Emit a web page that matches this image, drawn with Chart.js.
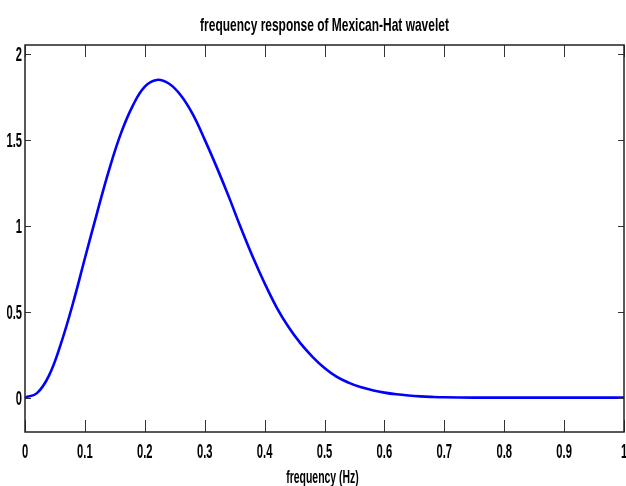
<!DOCTYPE html>
<html>
<head>
<meta charset="utf-8">
<script src="https://cdn.jsdelivr.net/npm/chart.js@4"></script>
<style>
  html, body { margin: 0; padding: 0; background: #fff; }
  #out { display: block; }
</style>
</head>
<body>
<canvas id="out" width="626" height="486"></canvas>
<script>
const freq = [0, 0.02, 0.04, 0.06, 0.08, 0.10, 0.12, 0.14, 0.16, 0.18, 0.20, 0.22,
  0.24, 0.26, 0.28, 0.30, 0.32, 0.34, 0.36, 0.38, 0.40, 0.42, 0.44, 0.46, 0.48,
  0.50, 0.52, 0.54, 0.56, 0.58, 0.60, 0.62, 0.64, 0.66, 0.68, 0.70, 0.75, 0.80,
  0.85, 0.90, 0.95, 1.00];
const response = [0, 0.026, 0.128, 0.314, 0.547, 0.810, 1.070, 1.320, 1.535, 1.698,
  1.808, 1.847, 1.826, 1.758, 1.648, 1.500, 1.340, 1.170, 0.990, 0.820, 0.665,
  0.525, 0.410, 0.315, 0.237, 0.172, 0.122, 0.087, 0.061, 0.043, 0.029, 0.019,
  0.012, 0.007, 0.004, 0.002, 0, 0, 0, 0, 0, 0];
const xTicks = [0, 0.1, 0.2, 0.3, 0.4, 0.5, 0.6, 0.7, 0.8, 0.9, 1];
const yTicks = [0, 0.5, 1, 1.5, 2];
const titleText = "frequency response of Mexican-Hat wavelet";
const xLabel = "frequency (Hz)";

const fontFamily = "'Liberation Sans', Arial, sans-serif";

// condensed text: squeeze horizontally around the anchor point
function squeezedText(ctx, text, x, y, sx, size, align) {
  ctx.save();
  ctx.translate(x, y);
  ctx.scale(sx, 1);
  ctx.font = "bold " + size + "px " + fontFamily;
  ctx.textAlign = align;
  ctx.textBaseline = "alphabetic";
  ctx.fillStyle = "#000";
  ctx.fillText(text, 0, 0);
  ctx.restore();
}

// box around the axes, inward ticks on all four sides, tick labels and titles
const boxPlugin = {
  id: "box",
  afterDraw(chart) {
    const { ctx, chartArea: a, scales } = chart;
    ctx.save();
    ctx.strokeStyle = "#333";
    ctx.lineWidth = 1;
    ctx.beginPath();
    xTicks.forEach(v => {
      const px = Math.round(scales.x.getPixelForValue(v)) + 0.5;
      ctx.moveTo(px, a.bottom); ctx.lineTo(px, a.bottom - 12);
      ctx.moveTo(px, a.top); ctx.lineTo(px, a.top + 12);
    });
    yTicks.forEach(v => {
      const py = Math.round(scales.y.getPixelForValue(v)) + 0.5;
      ctx.moveTo(a.left, py); ctx.lineTo(a.left + 6, py);
      ctx.moveTo(a.right, py); ctx.lineTo(a.right - 6, py);
    });
    ctx.stroke();
    ctx.strokeStyle = "#222";
    ctx.lineWidth = 1.5;
    ctx.strokeRect(a.left, a.top, a.right - a.left, a.bottom - a.top);
    ctx.restore();

    xTicks.forEach(v => {
      squeezedText(ctx, String(v), scales.x.getPixelForValue(v), a.bottom + 26, 0.56, 20, "center");
    });
    yTicks.forEach(v => {
      squeezedText(ctx, String(v), a.left - 3, scales.y.getPixelForValue(v) + 7, 0.56, 20, "right");
    });
    const cx = (a.left + a.right) / 2;
    squeezedText(ctx, titleText, cx, 31, 0.63, 19, "center");
    squeezedText(ctx, xLabel, cx - 2, 483, 0.55, 19, "center");
  }
};

const canvasCtx = document.getElementById("out").getContext("2d");

const chartConfig = {
  type: "line",
  data: {
    labels: freq,
    datasets: [{
      data: freq.map((f, i) => ({ x: f, y: response[i] })),
      borderColor: "#0000ff",
      borderWidth: 2.6,
      pointRadius: 0,
      tension: 0.4,
      fill: false
    }]
  },
  options: {
    responsive: false,
    animation: false,
    layout: { padding: { top: 45, right: 2 } },
    plugins: {
      legend: { display: false },
      tooltip: { enabled: false },
      title: { display: false }
    },
    scales: {
      x: {
        type: "linear",
        min: 0,
        max: 1,
        grid: { display: false, drawTicks: false },
        border: { display: false },
        ticks: { display: false },
        afterFit: scale => {
          scale.height = 54;
          scale.paddingLeft = 0;
          scale.paddingRight = 0;
        }
      },
      y: {
        type: "linear",
        min: -0.2,
        max: 2.05,
        grid: { display: false, drawTicks: false },
        border: { display: false },
        ticks: { display: false },
        afterFit: scale => {
          scale.width = 25;
          scale.paddingTop = 0;
          scale.paddingBottom = 0;
        }
      }
    }
  },
  plugins: [boxPlugin]
};

window.chart = new Chart(canvasCtx, chartConfig);
</script>
</body>
</html>
